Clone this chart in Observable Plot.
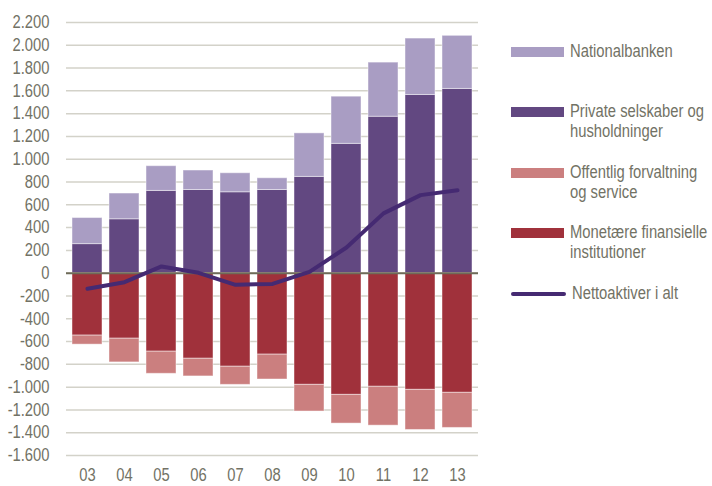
<!DOCTYPE html>
<html>
<head>
<meta charset="utf-8">
<script src="https://cdn.jsdelivr.net/npm/d3@7"></script>
<script src="https://cdn.jsdelivr.net/npm/@observablehq/plot@0.6"></script>
<style>
  html, body { margin: 0; padding: 0; background: #fff; }
  #wrap { position: relative; width: 712px; height: 486px; font-family: "Liberation Sans", Arial, sans-serif; }
  #legend { position: absolute; left: 511px; top: 0; width: 200px; color: #727265; font-size: 17.5px; }
  .item { position: absolute; left: 0; display: flex; align-items: flex-start; }
  .sw { width: 53px; height: 10px; margin-top: 6px; flex: none; }
  .ln { width: 55px; height: 4px; border-radius: 2px; margin-top: 9px; flex: none; }
  .lbl { margin-left: 6px; line-height: 20px; white-space: nowrap; transform: scaleX(0.845); transform-origin: left top; }
</style>
</head>
<body>
<div id="wrap"><div id="legend"></div></div>
<script>
const years = ["03","04","05","06","07","08","09","10","11","12","13"];
const nationalbanken = [229, 226, 217, 171, 167, 103, 382, 414, 475, 495, 466];
const private_ = [255, 473, 722, 730, 710, 730, 845, 1135, 1373, 1564, 1617];
const offentlig = [-79, -208, -194, -155, -159, -218, -234, -252, -341, -352, -308];
const monetaere = [-548, -575, -689, -751, -821, -715, -980, -1068, -997, -1024, -1050];
const netto = [-137, -79, 59, 3, -102, -94, 12, 225, 525, 685, 728];
const yTicks = [-1600,-1400,-1200,-1000,-800,-600,-400,-200,0,200,400,600,800,1000,1200,1400,1600,1800,2000,2200];

const seriesNames = ["Private selskaber og husholdninger", "Nationalbanken", "Monetære finansielle institutioner", "Offentlig forvaltning og service"];
const seriesValues = [private_, nationalbanken, monetaere, offentlig];
const colors = {
  "Nationalbanken": "#a99dc3",
  "Private selskaber og husholdninger": "#624881",
  "Offentlig forvaltning og service": "#cb7f7f",
  "Monetære finansielle institutioner": "#a0313b"
};
const lineColor = "#452a72";

const bars = [];
seriesNames.forEach((s, i) => years.forEach((y, j) => bars.push({year: y, series: s, value: seriesValues[i][j]})));
const lineData = years.map((y, j) => ({year: y, value: netto[j]}));

const loc = d3.formatLocale({decimal: ",", thousands: ".", grouping: [3], currency: ["", ""], minus: "-"});
const fmt = loc.format(",d");

const chart = Plot.plot({
  width: 712,
  height: 486,
  marginLeft: 66,
  marginRight: 234,
  marginTop: 22,
  marginBottom: 31,
  style: {fontFamily: '"Liberation Sans", Arial, sans-serif', fontSize: "18px", color: "#727265", background: "white"},
  x: {domain: years, paddingInner: 0.2, paddingOuter: 0.1, label: null},
  y: {domain: [-1600, 2200], label: null},
  color: {domain: Object.keys(colors), range: Object.values(colors)},
  marks: [
    Plot.ruleY(yTicks, {stroke: "#d3d2c9", strokeWidth: 1.5}),
    Plot.barY(bars, Plot.stackY({order: null}, {x: "year", y: "value", fill: "series", stroke: "#ffffff", strokeOpacity: 0.45, strokeWidth: 1})),
    Plot.ruleY([0], {stroke: "#6e6b59", strokeWidth: 2}),
    Plot.line(lineData, {x: "year", y: "value", stroke: lineColor, strokeWidth: 4, strokeLinejoin: "round", strokeLinecap: "round"}),
    Plot.axisX({tickSize: 0, tickPadding: 13, fontSize: 18, fill: "#727265", label: null}),
    Plot.axisY({ticks: yTicks, tickFormat: fmt, tickSize: 0, tickPadding: 17, fontSize: 18, fill: "#727265", label: null})
  ]
});
document.getElementById("wrap").prepend(chart);
chart.style.position = "absolute";
chart.style.left = "0";
chart.style.top = "0";

// condense axis text to mimic a narrow typeface
chart.querySelectorAll("g[aria-label='x-axis tick label'] text, g[aria-label='y-axis tick label'] text").forEach(t => {
  const w = t.getComputedTextLength();
  if (w > 0) {
    t.setAttribute("textLength", (w * 0.82).toFixed(2));
    t.setAttribute("lengthAdjust", "spacingAndGlyphs");
  }
});

const legendItems = [
  {name: "Nationalbanken", lines: ["Nationalbanken"], top: 41, type: "sw"},
  {name: "Private selskaber og husholdninger", lines: ["Private selskaber og", "husholdninger"], top: 101, type: "sw"},
  {name: "Offentlig forvaltning og service", lines: ["Offentlig forvaltning", "og service"], top: 162, type: "sw"},
  {name: "Monetære finansielle institutioner", lines: ["Monetære finansielle", "institutioner"], top: 222, type: "sw"},
  {name: "Nettoaktiver i alt", lines: ["Nettoaktiver i alt"], top: 283, type: "ln"}
];
const legend = document.getElementById("legend");
legendItems.forEach(it => {
  const d = document.createElement("div");
  d.className = "item";
  d.style.top = it.top + "px";
  const s = document.createElement("div");
  s.className = it.type;
  s.style.background = it.type === "sw" ? colors[it.name] : lineColor;
  const l = document.createElement("div");
  l.className = "lbl";
  l.innerHTML = it.lines.join("<br>");
  d.appendChild(s); d.appendChild(l);
  legend.appendChild(d);
});
</script>
</body>
</html>
